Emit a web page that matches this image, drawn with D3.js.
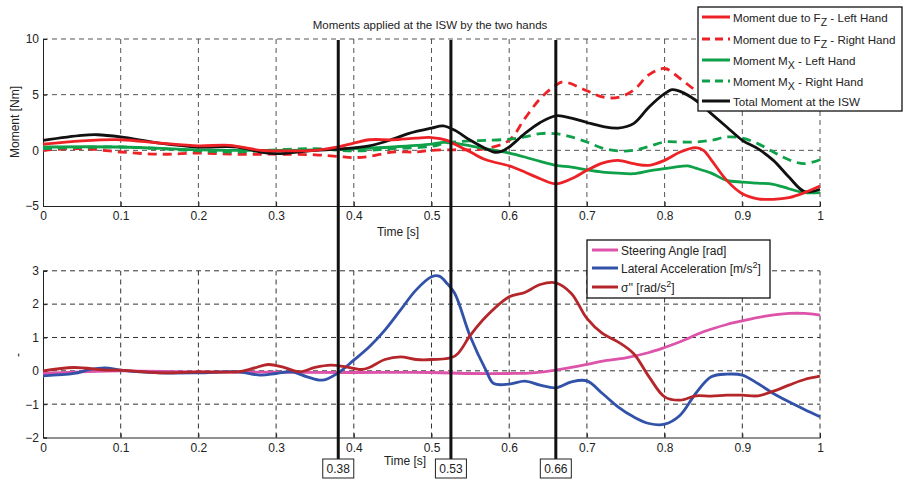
<!DOCTYPE html>
<html>
<head>
<meta charset="utf-8">
<title>Moments applied at the ISW by the two hands</title>
<style>
body { margin: 0; background: #fff; }
svg text { font-family: "Liberation Sans", Arial, sans-serif; fill: #222; }
.grid line { stroke-dasharray: 5,4; }
</style>
</head>
<body>
<svg width="904" height="482"></svg>
<script src="https://d3js.org/d3.v7.min.js"></script>
<script>
// data: [time s, value]
var fzLeft = [[0,0.55],[0.05,0.85],[0.1,0.95],[0.15,0.65],[0.2,0.4],[0.24,0.45],[0.28,0],[0.3,-0.05],[0.35,0],[0.38,0.3],[0.4,0.65],[0.42,0.95],[0.45,0.95],[0.48,1.1],[0.5,1.15],[0.52,0.9],[0.53,0.55],[0.55,-0.15],[0.57,-0.85],[0.6,-1.4],[0.62,-1.95],[0.64,-2.55],[0.66,-3.0],[0.68,-2.55],[0.7,-1.8],[0.72,-1.15],[0.74,-0.9],[0.76,-1.2],[0.78,-1.35],[0.8,-0.9],[0.82,-0.15],[0.84,0.25],[0.85,0],[0.86,-0.85],[0.88,-2.7],[0.9,-3.9],[0.92,-4.35],[0.94,-4.4],[0.96,-4.25],[0.98,-3.8],[1,-3.2]];
var fzRight = [[0,0],[0.05,0.15],[0.1,-0.15],[0.15,-0.35],[0.2,-0.25],[0.25,-0.35],[0.3,-0.35],[0.35,-0.4],[0.38,-0.55],[0.4,-0.65],[0.42,-0.55],[0.45,-0.15],[0.48,-0.15],[0.5,0],[0.53,0.05],[0.55,0.05],[0.57,0.15],[0.6,0.9],[0.62,2.85],[0.64,4.65],[0.66,5.85],[0.67,6.15],[0.7,5.35],[0.72,4.8],[0.74,4.75],[0.76,5.4],[0.78,6.8],[0.8,7.35],[0.82,6.45],[0.84,5.4],[0.86,4.8],[0.9,4.2],[0.95,4.0],[1,4.5]];
var mxLeft = [[0,0.3],[0.1,0.3],[0.2,0.05],[0.3,0],[0.35,0.05],[0.4,0.15],[0.45,0.3],[0.5,0.55],[0.515,0.72],[0.53,0.65],[0.55,0.4],[0.57,0.15],[0.6,-0.25],[0.62,-0.6],[0.64,-1.0],[0.66,-1.35],[0.68,-1.5],[0.7,-1.75],[0.72,-1.95],[0.74,-2.05],[0.76,-2.1],[0.78,-1.85],[0.8,-1.65],[0.82,-1.45],[0.83,-1.4],[0.84,-1.6],[0.86,-2.05],[0.88,-2.7],[0.9,-2.85],[0.92,-2.95],[0.94,-3.05],[0.96,-3.45],[0.98,-3.8],[1,-3.8]];
var mxRight = [[0,0.15],[0.1,0.3],[0.2,-0.05],[0.25,-0.15],[0.3,0.05],[0.35,0.15],[0.4,-0.05],[0.45,0.15],[0.5,0.35],[0.515,0.6],[0.53,0.75],[0.55,0.85],[0.57,0.9],[0.6,1.0],[0.62,1.2],[0.64,1.5],[0.66,1.5],[0.68,1.2],[0.7,0.75],[0.72,0.2],[0.74,-0.05],[0.76,0],[0.78,0.35],[0.8,0.75],[0.82,0.75],[0.84,0.75],[0.86,0.9],[0.88,1.2],[0.9,1.1],[0.92,0.6],[0.94,-0.15],[0.96,-0.85],[0.98,-1.2],[1,-0.85]];
var totalMoment = [[0,0.9],[0.05,1.35],[0.07,1.4],[0.1,1.2],[0.15,0.65],[0.2,0.3],[0.25,0.3],[0.28,-0.15],[0.3,-0.3],[0.35,0],[0.38,0.1],[0.42,0.4],[0.45,1.0],[0.47,1.5],[0.5,2.0],[0.515,2.2],[0.53,1.8],[0.55,0.9],[0.57,0.15],[0.58,-0.15],[0.59,-0.1],[0.6,0.3],[0.62,1.5],[0.64,2.5],[0.66,3.1],[0.68,2.9],[0.7,2.5],[0.72,2.15],[0.74,2.0],[0.76,2.4],[0.78,3.9],[0.8,5.1],[0.81,5.45],[0.82,5.3],[0.84,4.5],[0.86,3.3],[0.88,2.1],[0.9,0.9],[0.92,0.15],[0.94,-0.9],[0.96,-2.4],[0.98,-3.7],[1,-3.5]];

var steering = [[0,-0.08],[0.05,-0.03],[0.1,0],[0.2,-0.03],[0.3,-0.04],[0.4,-0.05],[0.5,-0.05],[0.55,-0.08],[0.6,-0.08],[0.63,-0.06],[0.66,0.02],[0.7,0.19],[0.72,0.29],[0.75,0.39],[0.78,0.55],[0.8,0.7],[0.82,0.87],[0.85,1.17],[0.88,1.39],[0.9,1.5],[0.93,1.64],[0.96,1.72],[0.98,1.72],[1,1.67]];
var latAcc = [[0,-0.15],[0.04,-0.08],[0.06,0.04],[0.08,0.09],[0.1,0.02],[0.15,-0.06],[0.2,-0.06],[0.25,-0.03],[0.28,-0.13],[0.3,-0.08],[0.32,-0.03],[0.34,-0.18],[0.36,-0.28],[0.38,-0.06],[0.4,0.32],[0.42,0.72],[0.44,1.22],[0.46,1.82],[0.48,2.42],[0.5,2.82],[0.51,2.84],[0.52,2.62],[0.53,2.32],[0.55,1.02],[0.57,0.02],[0.58,-0.38],[0.6,-0.4],[0.62,-0.31],[0.64,-0.43],[0.66,-0.51],[0.68,-0.33],[0.7,-0.3],[0.72,-0.68],[0.74,-1.08],[0.76,-1.38],[0.78,-1.58],[0.8,-1.6],[0.82,-1.33],[0.84,-0.68],[0.86,-0.18],[0.88,-0.1],[0.9,-0.13],[0.92,-0.38],[0.94,-0.68],[0.96,-0.93],[0.98,-1.16],[1,-1.38]];
var sigmaDD = [[0,0],[0.04,0.1],[0.08,0.02],[0.1,0.02],[0.15,-0.06],[0.2,-0.03],[0.25,-0.03],[0.27,0.07],[0.29,0.19],[0.31,0.1],[0.33,-0.03],[0.35,0.1],[0.37,0.17],[0.39,0.12],[0.41,0.04],[0.42,0.1],[0.44,0.34],[0.46,0.42],[0.48,0.34],[0.5,0.34],[0.53,0.44],[0.55,1.07],[0.57,1.62],[0.6,2.22],[0.62,2.35],[0.64,2.59],[0.66,2.64],[0.68,2.32],[0.7,1.57],[0.72,1.12],[0.74,0.87],[0.76,0.52],[0.78,-0.18],[0.8,-0.78],[0.82,-0.88],[0.84,-0.75],[0.86,-0.76],[0.88,-0.73],[0.9,-0.73],[0.92,-0.75],[0.94,-0.61],[0.96,-0.43],[0.98,-0.26],[1,-0.16]];

var markTimes = [0.38, 0.525, 0.66];
var markLabels = ["0.38", "0.53", "0.66"];
var xTicks = [0, 0.1, 0.2, 0.3, 0.4, 0.5, 0.6, 0.7, 0.8, 0.9, 1];
var topTicks = [-5, 0, 5, 10];
var bottomTicks = [-2, -1, 0, 1, 2, 3];

var svg = d3.select("svg");
var x = d3.scaleLinear().domain([0, 1]).range([43, 820]);
var yTop = d3.scaleLinear().domain([-5, 10]).range([206, 39]);
var yBot = d3.scaleLinear().domain([-2, 3]).range([437.5, 270.8]);

function panel(y, yticks, gridColor) {
  var g = svg.append("g");
  var grid = g.append("g").attr("class", "grid");
  grid.selectAll(".gx").data(xTicks.slice(1)).enter().append("line")
    .attr("x1", function(d) { return x(d); }).attr("x2", function(d) { return x(d); })
    .attr("y1", y.range()[0]).attr("y2", y.range()[1])
    .attr("stroke", gridColor).attr("stroke-width", 1);
  grid.selectAll(".gy").data(yticks.slice(1)).enter().append("line")
    .attr("x1", x(0)).attr("x2", x(1))
    .attr("y1", function(d) { return y(d); }).attr("y2", function(d) { return y(d); })
    .attr("stroke", gridColor).attr("stroke-width", 1);
  // axes, ticks pointing in like matlab
  var ax = g.append("g").attr("transform", "translate(0," + y.range()[0] + ")")
    .call(d3.axisBottom(x).tickValues(xTicks).tickSize(-4).tickPadding(8)
      .tickFormat(function(d) { return String(+d.toFixed(1)); }));
  var ay = g.append("g").attr("transform", "translate(" + x(0) + ",0)")
    .call(d3.axisLeft(y).tickValues(yticks).tickSize(-4).tickPadding(4)
      .tickFormat(d3.format("d")));
  [ax, ay].forEach(function(a) {
    a.select(".domain").attr("stroke", "#222");
    a.selectAll(".tick line").attr("stroke", "#222");
    a.selectAll("text").attr("font-size", 12).attr("fill", "#333")
      .style("font-family", "'Liberation Sans', Arial, sans-serif");
  });
  ax.selectAll(".tick text").attr("dy", "0.5em");
  return g;
}

panel(yTop, topTicks, "#555");
panel(yBot, bottomTicks, "#333");

function drawLine(data, y, color, dashed) {
  svg.append("path")
    .datum(data)
    .attr("fill", "none")
    .attr("stroke", color)
    .attr("stroke-width", 2.8)
    .attr("stroke-dasharray", dashed ? "9,6" : null)
    .attr("d", d3.line().curve(d3.curveCatmullRom)
      .x(function(d) { return x(d[0]); })
      .y(function(d) { return y(d[1]); }));
}

var RED = "#ec2227", GREEN = "#0fa04a", BLACK = "#111",
    PINK = "#dc53a9", BLUE = "#3152a8", DRED = "#b5262a";

drawLine(fzRight, yTop, RED, true);
drawLine(mxRight, yTop, GREEN, true);
drawLine(mxLeft, yTop, GREEN, false);
drawLine(totalMoment, yTop, BLACK, false);
drawLine(fzLeft, yTop, RED, false);

drawLine(steering, yBot, PINK, false);
drawLine(latAcc, yBot, BLUE, false);
drawLine(sigmaDD, yBot, DRED, false);

// titles and labels
svg.append("text").attr("x", 430).attr("y", 29).attr("text-anchor", "middle")
  .attr("font-size", 11.5).text("Moments applied at the ISW by the two hands");
svg.append("text").attr("x", 398).attr("y", 236).attr("text-anchor", "middle")
  .attr("font-size", 12).text("Time [s]");
svg.append("text").attr("x", 405).attr("y", 465).attr("text-anchor", "middle")
  .attr("font-size", 12).text("Time [s]");
svg.append("text").attr("transform", "translate(19,122) rotate(-90)").attr("text-anchor", "middle")
  .attr("font-size", 12).text("Moment [Nm]");
svg.append("text").attr("transform", "translate(22,355) rotate(-90)").attr("text-anchor", "middle")
  .attr("font-size", 12).text("-");

// time markers
var marks = svg.append("g");
markTimes.forEach(function(t, i) {
  marks.append("line").attr("x1", x(t)).attr("x2", x(t)).attr("y1", 40).attr("y2", 459)
    .attr("stroke", BLACK).attr("stroke-width", 3);
  marks.append("rect").attr("x", x(t) - 15.5).attr("y", 459).attr("width", 31).attr("height", 19)
    .attr("fill", "#fff").attr("stroke", "#222").attr("stroke-width", 1);
  marks.append("text").attr("x", x(t)).attr("y", 473).attr("text-anchor", "middle")
    .attr("font-size", 12).text(markLabels[i]);
});

// legends
function legend(x0, y0, w, h, rows, rowY, lineX, lineW, fs) {
  var g = svg.append("g");
  g.append("rect").attr("x", x0).attr("y", y0).attr("width", w).attr("height", h)
    .attr("fill", "#fff").attr("stroke", "#111").attr("stroke-width", 1.3);
  rows.forEach(function(r, i) {
    g.append("line").attr("x1", lineX).attr("x2", lineX + lineW)
      .attr("y1", rowY[i]).attr("y2", rowY[i])
      .attr("stroke", r.color).attr("stroke-width", 3)
      .attr("stroke-dasharray", r.dashed ? "8,5" : null);
    var t = g.append("text").attr("x", lineX + lineW + 3).attr("y", rowY[i] + 4.5).attr("font-size", fs);
    r.parts.forEach(function(p) {
      var s = t.append("tspan").text(p[0]);
      if (p[1] === "sub") s.attr("baseline-shift", "-4").attr("font-size", fs - 1);
      if (p[1] === "sup") s.attr("baseline-shift", "5").attr("font-size", 9);
    });
  });
}

legend(698, 7, 204, 104, [
  { color: RED, dashed: false, parts: [["Moment due to F"], ["Z", "sub"], [" - Left Hand"]] },
  { color: RED, dashed: true, parts: [["Moment due to F"], ["Z", "sub"], [" - Right Hand"]] },
  { color: GREEN, dashed: false, parts: [["Moment M"], ["X", "sub"], [" - Left Hand"]] },
  { color: GREEN, dashed: true, parts: [["Moment M"], ["X", "sub"], [" - Right Hand"]] },
  { color: BLACK, dashed: false, parts: [["Total Moment at the ISW"]] }
], [17, 39, 60, 81, 101], 702, 28, 11.6);

legend(587, 240, 183, 58, [
  { color: PINK, parts: [["Steering Angle [rad]"]] },
  { color: BLUE, parts: [["Lateral Acceleration [m/s"], ["2", "sup"], ["]"]] },
  { color: DRED, parts: [["\u03c3'' [rad/s"], ["2", "sup"], ["]"]] }
], [250, 268, 287], 592, 26, 12);
</script>
</body>
</html>
